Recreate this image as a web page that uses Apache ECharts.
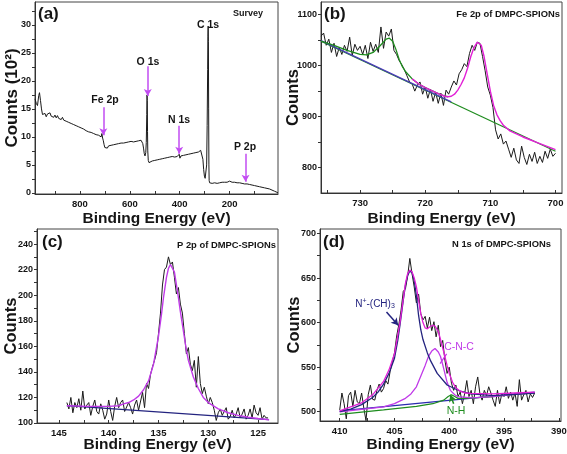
<!DOCTYPE html>
<html><head><meta charset="utf-8">
<script src="https://cdn.jsdelivr.net/npm/echarts@6/dist/echarts.min.js"></script>
<style>html,body{margin:0;padding:0;background:#fff}#c{width:567px;height:454px}</style>
</head><body><div id="c"></div>
<script>
// ---------- (a) Survey ----------
var surveyPoints = [[980,16.8],[975,16.0],[970,15.6],[965,17.4],[962,17.9],[958,16.5],[954,15.0],[950,14.0],[945,13.7],[940,14.2],[935,13.6],[930,14.1],[925,13.8],[920,14.3],[915,13.7],[910,14.0],[905,13.5],[900,13.9],[895,13.4],[890,13.8],[885,13.3],[880,13.6],[875,13.1],[870,13.5],[865,13.0],[860,13.3],[855,12.8],[850,13.1],[845,12.6],[840,12.9],[835,12.4],[830,12.7],[825,12.2],[820,12.5],[815,12.0],[810,12.3],[805,11.8],[800,12.0],[795,11.6],[790,11.9],[785,11.4],[780,11.6],[775,11.1],[770,11.4],[765,10.9],[760,11.2],[755,10.8],[750,11.0],[745,10.6],[740,10.9],[735,10.4],[730,10.7],[725,10.3],[720,10.5],[715,10.0],[712,10.6],[709,9.8],[706,9.3],[703,8.6],[700,8.1],[697,7.9],[694,8.3],[690,8.0],[685,8.4],[680,8.2],[675,8.5],[670,8.3],[665,8.6],[660,8.4],[655,8.7],[650,8.5],[645,8.8],[640,8.5],[635,8.9],[630,8.6],[625,8.9],[620,8.7],[615,9.0],[610,8.7],[605,9.1],[600,8.8],[595,9.2],[590,8.9],[585,9.1],[580,8.8],[575,9.2],[570,8.9],[565,9.3],[560,9.0],[555,9.4],[552,9.1],[548,8.8],[545,8.0],[542,7.0],[539,6.6],[536,7.2],[534,9.0],[532,14.0],[531,17.5],[530,16.5],[529,11.0],[528,7.5],[526,5.8],[523,5.4],[520,5.6],[515,5.3],[510,5.7],[505,5.4],[500,5.8],[495,5.5],[490,5.9],[485,5.6],[480,6.0],[475,5.7],[470,6.1],[465,5.8],[460,6.2],[455,5.9],[450,6.3],[445,6.0],[440,6.4],[435,6.1],[430,6.5],[425,6.2],[420,6.4],[415,6.1],[410,6.5],[405,6.3],[402,6.9],[399,6.2],[395,6.6],[390,6.3],[385,6.7],[380,6.4],[375,6.8],[370,6.5],[365,6.9],[360,6.6],[355,7.0],[350,6.7],[345,7.1],[340,6.9],[335,7.2],[330,7.0],[325,7.3],[320,7.2],[316,7.6],[313,7.9],[310,7.4],[307,6.0],[304,4.2],[301,3.0],[298,2.6],[295,2.8],[292,5.0],[290,12.0],[288,22.0],[287,28.0],[286,29.8],[285,27.0],[284,15.0],[283,5.0],[282,2.2],[280,1.8],[275,1.9],[270,1.7],[265,1.9],[260,1.8],[255,1.9],[250,1.7],[245,1.9],[240,1.8],[235,1.7],[230,1.9],[225,1.8],[220,1.9],[215,1.7],[210,1.9],[205,1.8],[200,2.1],[197,2.4],[194,1.8],[190,1.9],[185,1.7],[180,1.9],[175,1.7],[170,1.8],[165,1.6],[160,1.8],[155,1.6],[150,1.7],[145,1.5],[140,1.6],[136,1.8],[133,1.5],[130,1.6],[125,1.4],[120,1.5],[115,1.3],[110,1.4],[105,1.2],[100,1.3],[95,1.1],[90,1.2],[85,1.0],[80,1.1],[75,0.9],[70,1.0],[65,0.8],[60,0.9],[55,0.7],[50,0.8],[45,0.6],[40,0.7],[35,0.5],[30,0.5],[25,0.4],[20,0.3],[15,0.2],[10,0.1],[6,0.0]];
var surveyXTicks = [800,600,400,200];
var surveyXMinor = [900,700,500,300,100];
var surveyYTicks = [0,5,10,15,20,25,30];
var surveyYMinor = [2.5,7.5,12.5,17.5,22.5,27.5,32.5];
// peak label arrows: [energy, yFrom, yTo]
var surveyArrows = [[706,15.3,10.3],[528,22.6,17.3],[402,12.0,7.0],[136,7.0,2.0]];

// ---------- (b) Fe 2p ----------
var feStart = 736.0, feStep = -0.4;
var feCounts = [1058,1064,1040,1052,1026,1044,1018,1036,1022,1040,
1028,1056,1020,1042,1030,1038,1022,1040,1014,1046,
1028,1042,1026,1076,1034,1066,1058,1072,1030,1022,
1010,1002,992,980,968,964,950,962,968,944,
958,936,954,930,948,926,946,922,952,944,
958,970,962,984,992,1004,998,1024,1040,1030,
1046,1044,1018,990,958,942,918,874,856,866,
846,852,836,820,838,815,808,842,820,806,
826,812,830,808,822,810,832,818,836,822,
828];
var feBaseline = [[736,1048],[700,832]];
var feBlueLine = [[736,1049],[716,929]];
var feGreenFit = [[736,1048],[734,1040],[732,1030],[730,1022],[729,1021],[728,1026],[727,1038],[726,1052],[725.5,1054],[725,1048],[724.5,1032],[724,1012],[723.5,998],[723,988],[722,974],[721,964],[720,957],[719,951],[718,945],[717,940],[716.5,939]];
var feMagentaFit = [[722,974],[721,964],[720,957],[719,951],[718,945],[717,940],[716.5,939],[716,940],[715.5,944],[715,952],[714.5,963],[714,976],[713.5,995],[713,1018],[712.5,1036],[712,1046],[711.7,1048],[711.4,1040],[711,1020],[710.5,985],[710,950],[709.5,922],[709,904],[708.5,892],[708,883],[707,872],[706,866],[705,860],[704,855],[703,850],[702,845],[701,840],[700,835]];
var feXTicks = [730,720,710,700];
var feXMinor = [735,725,715,705];
var feYTicks = [800,900,1000,1100];
var feYMinor = [850,950,1050];

// ---------- (c) P 2p ----------
var pStart = 144.2, pStep = -0.2;
var pCounts = [116,111,120,108,116,112,119,110,125,111,
114,116,106,113,118,109,107,115,110,103,
107,118,109,102,113,120,112,116,118,109,
108,116,112,107,114,118,110,111,124,112,
131,127,138,144,149,155,170,186,208,220,
222,230,224,226,214,201,206,193,186,170,
154,159,146,141,149,128,152,131,123,128,
121,115,120,116,110,102,108,111,106,107,
112,103,105,110,104,107,112,104,107,111,
103,106,111,104,114,108,106,112,103,106,
104,104];
var pBaseline = [[144.2,113.6],[123.9,102.6]];
var pFit = [[144.2,113.5],[142,113],[140,113],[139,113.5],[138.5,115],[138,116],[137.5,118],[137,121],[136.5,126],[136,133],[135.5,146],[135,168],[134.7,185],[134.5,198],[134.2,214],[134,221],[133.8,224],[133.6,223],[133.4,218],[133.2,208],[133,198],[132.8,187],[132.5,172],[132.2,157],[132,149],[131.5,136],[131,127],[130.5,120],[130,116],[129,111],[128,108],[127,106],[126,104.5],[125,103.5],[123.9,102.5]];
var pXTicks = [145,140,135,130,125];
var pXMinor = [142.5,137.5,132.5,127.5];
var pYTicks = [100,120,140,160,180,200,220,240];
var pYMinor = [110,130,150,170,190,210,230,250];

// ---------- (d) N 1s ----------
var nStart = 410.0, nStep = -0.2;
var nCounts = [502,521,509,492,518,522,506,524,511,509,
521,504,490,519,530,514,513,524,531,522,
526,535,531,545,556,566,585,598,614,635,
638,652,672,655,640,622,632,610,603,607,
594,606,591,601,584,597,573,580,558,543,
550,532,524,530,517,522,509,520,535,517,
524,509,528,539,520,513,524,518,528,521,
513,506,524,509,520,517,528,515,522,513,
521,506,536,513,519,524,511,520,516,521];
var nBaseline = [[410,501],[392.2,522]];
var nQuatFit = [[410,500],[409,503],[408,508],[407,516],[406.5,522],[406,531],[405.5,543],[405,560],[404.7,580],[404.5,597],[404.2,625],[404,642],[403.8,653],[403.6,658],[403.4,656],[403.2,647],[403,630],[402.8,608],[402.6,592],[402.4,581],[402,566],[401.7,557],[401.1,543],[400.2,530],[399,523],[398,520],[396,518],[394,519.5],[392.2,521]];
var nTotalFit = [[410,501],[408,510],[407,519],[406,534],[405.5,547],[405,565],[404.5,600],[404,644],[403.8,655],[403.6,659],[403.4,657],[403.2,650],[403,640],[402.8,625],[402.6,610],[402.4,600],[402.2,594],[402,593],[401.8,595],[401.5,597],[401.3,596],[401,590],[400.8,581],[400.5,567],[400.2,552],[400,543],[399.7,533],[399.4,527],[399,523],[398.5,521],[398,520.5],[396,520],[394,521],[392.2,522]];
var nCNCFit = [[410,500],[407,504],[406,505.5],[405,509],[404,515],[403.5,520],[403,528],[402.5,543],[402.2,552],[401.9,562],[401.6,568],[401.3,571],[401,567],[400.8,562],[400.6,553],[400.4,543],[400.2,533],[399.9,524],[399.5,519],[399.2,517],[398,515.5],[396,517],[394,519.5],[392.2,521.5]];
var nNHFit = [[410,497],[406,502],[403,506],[401.5,509],[400.5,513],[400.1,517],[399.8,519],[399.5,517],[399.2,515],[398.5,515],[396,517],[394,519.5],[392.2,521]];
var nXTicks = [410,405,400,395,390];
var nXMinor = [407.5,402.5,397.5,392.5];
var nYTicks = [500,550,600,650,700];
var nYMinor = [525,575,625,675];

// ---------- build ----------
function evenSeries(start, step, counts){ return counts.map(function(v,i){ return [+(start+step*i).toFixed(2), v]; }); }
var FONT = 'Liberation Sans, Arial, sans-serif';
var INK = '#151515';
function plain(v){ return String(Math.round(v*100)/100); }
function xAx(gi, min, max, ticks, minor, gap){
  return {type:'value', gridIndex:gi, inverse:true, min:min, max:max,
    axisLine:{show:true, onZero:false, lineStyle:{color:'#333', width:1}},
    axisTick:{show:true, inside:true, length:3, customValues:ticks.concat(minor), lineStyle:{color:'#333'}},
    axisLabel:{show:true, customValues:ticks, formatter:plain, margin:5, color:INK, fontWeight:'bold', fontSize:9.5, fontFamily:FONT, hideOverlap:false},
    splitLine:{show:false},
    name:'Binding Energy (eV)', nameLocation:'middle', nameGap:gap, nameMoveOverlap:false,
    nameTextStyle:{color:INK, fontWeight:'bold', fontSize:15.5, fontFamily:FONT}};
}
function yAx(gi, min, max, ticks, minor, name, gap, fs){
  return {type:'value', gridIndex:gi, min:min, max:max,
    axisLine:{show:true, onZero:false, lineStyle:{color:'#333', width:1}},
    axisTick:{show:true, inside:false, length:3, customValues:ticks.concat(minor), lineStyle:{color:'#333'}},
    axisLabel:{show:true, customValues:ticks, formatter:plain, margin:4, color:INK, fontWeight:'bold', fontSize:9, fontFamily:FONT, hideOverlap:false},
    splitLine:{show:false},
    name:name, nameLocation:'middle', nameGap:gap, nameMoveOverlap:false,
    nameTextStyle:{color:INK, fontWeight:'bold', fontSize:fs, fontFamily:FONT}};
}
function line(gi, data, color, width, z, extra){
  var s = {type:'line', xAxisIndex:gi, yAxisIndex:gi, data:data, showSymbol:false, symbol:'none',
    lineStyle:{color:color, width:width}, z:z, animation:false, silent:true};
  if (extra) for (var k in extra) s[k]=extra[k];
  return s;
}
function arrowLines(list, color){
  return {silent:true, symbol:['none','arrow'], symbolSize:[6,7], animation:false,
    lineStyle:{color:color, width:1.5, type:'solid'}, label:{show:false},
    data: list.map(function(a){ return [{coord:[a[0],a[1]]},{coord:[a[2],a[3]]}]; })};
}
function txt(x, y, text, size, color, align, weight){
  return {type:'text', x:x, y:y, silent:true, z:100,
    style:{text:text, font:(weight||'bold')+' '+size+'px '+FONT, fill:color||INK,
      align:align||'center', verticalAlign:'middle', textAlign:align||'center', textVerticalAlign:'middle'}};
}
function gridBox(l,t,w,h){
  return {left:l, top:t, width:w, height:h, show:true, borderColor:'#444', borderWidth:1,
    containLabel:false, outerBoundsMode:'none'};
}

var BLACK='#1a1a1a', MAG='#e21fd6', GREEN='#1e8c1e', NAVY='#23237f', VIOLET='#c03ae8', ARROW='#c24cf2';

var option = {
  animation:false,
  backgroundColor:'#fff',
  grid:[ gridBox(35,2,243,192), gridBox(321,2,241,191), gridBox(37,229,241,194), gridBox(320,229,241,192) ],
  xAxis:[
    xAx(0, 6, 980, surveyXTicks, surveyXMinor, 17),
    xAx(1, 699, 736, feXTicks, feXMinor, 18),
    xAx(2, 123, 147.2, pXTicks, pXMinor, 14),
    xAx(3, 389.8, 411.8, nXTicks, nXMinor, 15.5)
  ],
  yAxis:[
    yAx(0, -0.2, 34.1, surveyYTicks, surveyYMinor, 'Counts (10²)', 14.5, 17),
    yAx(1, 750, 1125, feYTicks, feYMinor, 'Counts', 19, 16.5),
    yAx(2, 100, 251.8, pYTicks, pYMinor, 'Counts', 17.5, 16.5),
    yAx(3, 489.6, 705, nYTicks, nYMinor, 'Counts', 17.5, 16.5)
  ],
  series:[
    line(0, surveyPoints, BLACK, 1, 2, {markLine: arrowLines(surveyArrows.map(function(a){return [a[0],a[1],a[0],a[2]];}), ARROW)}),

    line(1, evenSeries(feStart, feStep, feCounts), BLACK, 1, 2),
    line(1, feBaseline, GREEN, 1.2, 3),
    line(1, feBlueLine, '#4a3ab8', 1.3, 4),
    line(1, feGreenFit, GREEN, 1.3, 4),
    line(1, feMagentaFit, MAG, 1.4, 5),

    line(2, evenSeries(pStart, pStep, pCounts), BLACK, 1, 2),
    line(2, pBaseline, NAVY, 1.2, 3),
    line(2, pFit, VIOLET, 1.4, 4),

    line(3, evenSeries(nStart, nStep, nCounts), BLACK, 1, 2),
    line(3, nBaseline, '#2a2ab0', 1.2, 3),
    line(3, nNHFit, GREEN, 1.2, 4, {markLine: arrowLines([[399.6,509,399.9,519]], GREEN)}),
    line(3, nCNCFit, VIOLET, 1.3, 4),
    line(3, nQuatFit, NAVY, 1.3, 5, {markLine: arrowLines([[405.73,612,404.66,597]], NAVY)}),
    line(3, nTotalFit, MAG, 1.3, 6, {markLine: {silent:true, symbol:['none','none'], animation:false,
      lineStyle:{color:VIOLET, width:1.2, type:'solid'}, label:{show:false},
      data:[[{coord:[400.24,565]},{coord:[400.84,554]}]]}})
  ],
  graphic:[
    txt(38, 14, '(a)', 17, INK, 'left'),
    txt(248, 14, 'Survey', 9, INK),
    txt(208, 25, 'C 1s', 10.5, INK),
    txt(148, 62, 'O 1s', 10.5, INK),
    txt(105, 100, 'Fe 2p', 10.5, INK),
    txt(179, 120, 'N 1s', 10.5, INK),
    txt(245, 147, 'P 2p', 10.5, INK),

    txt(324, 14, '(b)', 17, INK, 'left'),
    txt(560, 14, 'Fe 2p of DMPC-SPIONs', 9.4, INK, 'right'),

    txt(42, 242, '(c)', 17, INK, 'left'),
    txt(276, 245, 'P 2p of DMPC-SPIONs', 9.4, INK, 'right'),

    txt(323, 242, '(d)', 17, INK, 'left'),
    txt(551, 244, 'N 1s of DMPC-SPIONs', 9.4, INK, 'right'),
    {type:'text', x:375, y:304, silent:true, z:100,
      style:{text:'{a|N}{s|+}{a|-(CH)}{b|3}', align:'center', verticalAlign:'middle', textAlign:'center', textVerticalAlign:'middle',
        rich:{a:{font:'10px '+FONT, fill:NAVY, fontSize:10, color:NAVY},
              s:{font:'7px '+FONT, fill:NAVY, fontSize:7, color:NAVY, verticalAlign:'top', padding:[0,0,5,0]},
              b:{font:'7px '+FONT, fill:NAVY, fontSize:7, color:NAVY, verticalAlign:'bottom', padding:[5,0,0,0]}}}},
    txt(459, 347, 'C-N-C', 10.5, VIOLET, 'center', 'normal'),
    txt(456, 411, 'N-H', 10.5, GREEN, 'center', 'normal')
  ]
};
var chart = echarts.init(document.getElementById('c'), null, {renderer:'canvas'});
chart.setOption(option);
</script></body></html>
